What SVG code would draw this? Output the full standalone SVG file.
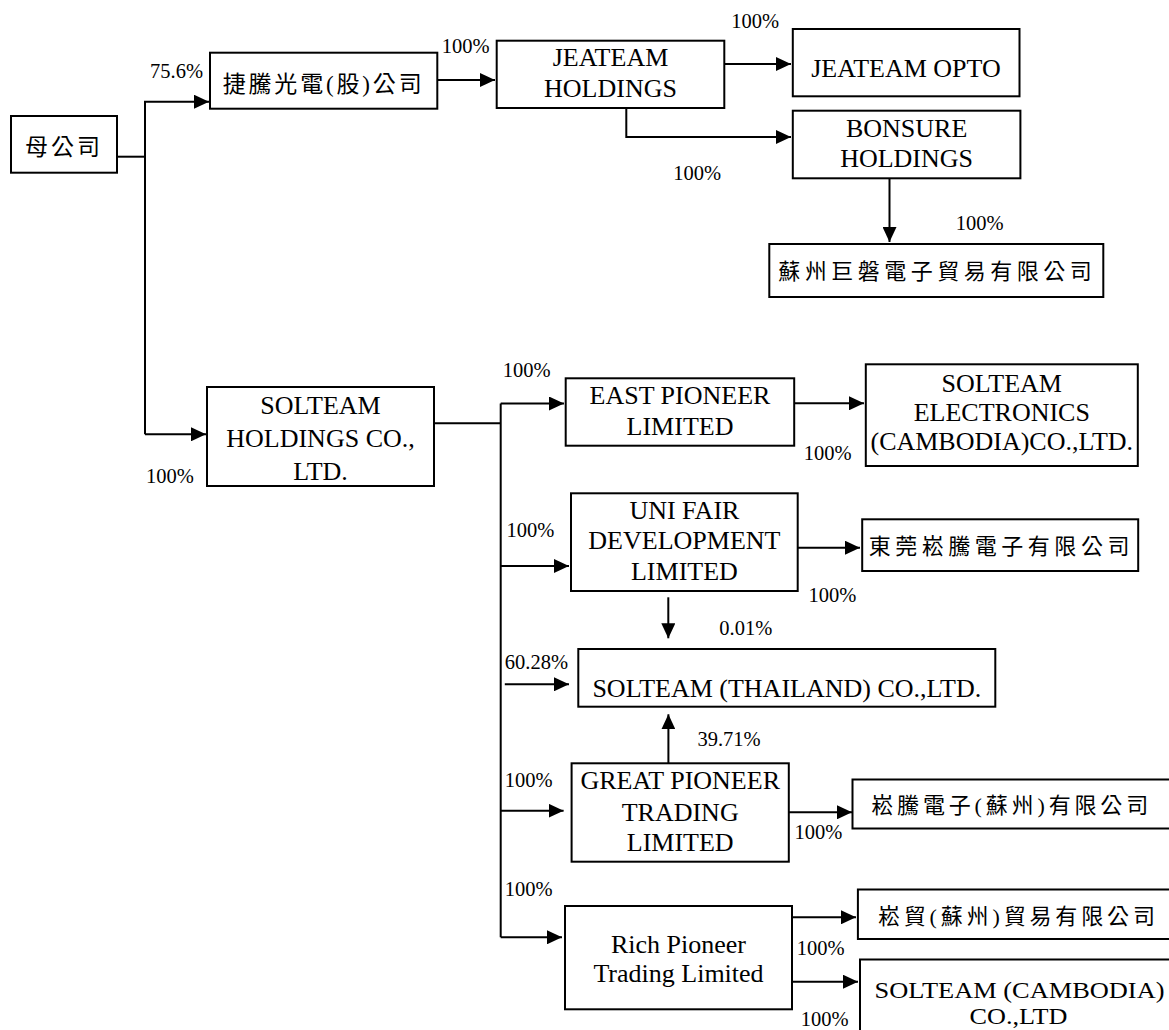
<svg xmlns="http://www.w3.org/2000/svg" width="1169" height="1030" viewBox="0 0 1169 1030">
<style>
.box{fill:#fff;stroke:#000;stroke-width:2}
.t{font-family:"Liberation Serif","Times New Roman",serif;font-size:26px;fill:#000;text-anchor:middle}
.c{font-family:"Liberation Serif","Noto Sans CJK TC",serif;font-size:23px;fill:#000}
.p{font-family:"Liberation Serif","Times New Roman",serif;font-size:20.5px;fill:#000}
.ln{fill:none;stroke:#000;stroke-width:2}
.ar{fill:none;stroke:#000;stroke-width:2;marker-end:url(#ah)}
</style>
<defs>
<marker id="ah" markerUnits="userSpaceOnUse" markerWidth="15" markerHeight="14" refX="15" refY="7" orient="auto">
<path d="M0,0 L15,7 L0,14 z" fill="#000"/>
</marker>
</defs>
<rect width="1169" height="1030" fill="#fff"/>
<g id="connectors">
<path class="ln" d="M117,156.7 H145"/>
<path class="ar" d="M145,434.3 V101.7 H209"/>
<path class="ar" d="M145,434.3 H206"/>
<path class="ar" d="M437.3,80 H495"/>
<path class="ar" d="M724.3,64 H791"/>
<path class="ar" d="M626.3,108 V137 H791"/>
<path class="ar" d="M889.5,178.3 V242"/>
<path class="ln" d="M434,423.3 H500.7"/>
<path class="ln" d="M500.7,403.5 V937.3"/>
<path class="ar" d="M500.7,403.5 H564"/>
<path class="ar" d="M794.2,403.3 H864"/>
<path class="ar" d="M500.7,566 H569"/>
<path class="ar" d="M797.7,547.7 H860"/>
<path class="ar" d="M668.3,597.3 V638.3"/>
<path class="ar" d="M504.8,684.3 H569"/>
<path class="ar" d="M668.4,763.3 V714.3"/>
<path class="ar" d="M500.7,810.7 H563.6"/>
<path class="ar" d="M788.8,812.3 H852"/>
<path class="ar" d="M500.7,937.3 H562"/>
<path class="ar" d="M790.1,917.3 H856"/>
<path class="ar" d="M791.9,981.7 H858"/>
</g>
<g id="labels">
<text class="p" x="150" y="78">75.6%</text>
<text class="p" x="441.7" y="53">100%</text>
<text class="p" x="731.3" y="27.5">100%</text>
<text class="p" x="673.3" y="180">100%</text>
<text class="p" x="955.8" y="230">100%</text>
<text class="p" x="146" y="482.7">100%</text>
<text class="p" x="502.7" y="377">100%</text>
<text class="p" x="803.8" y="460">100%</text>
<text class="p" x="506.4" y="537">100%</text>
<text class="p" x="808.6" y="602">100%</text>
<text class="p" x="719.3" y="634.5">0.01%</text>
<text class="p" x="504.8" y="669">60.28%</text>
<text class="p" x="697.4" y="746">39.71%</text>
<text class="p" x="504.8" y="787">100%</text>
<text class="p" x="794.6" y="839">100%</text>
<text class="p" x="504.8" y="896">100%</text>
<text class="p" x="796.8" y="955">100%</text>
<text class="p" x="800.8" y="1026">100%</text>
</g>
<g id="n-parent">
<rect class="box" x="11" y="116" width="106" height="56.7"/>
<text class="c" x="25" y="155" textLength="75" lengthAdjust="spacing">母公司</text>
</g>
<g id="n-jetek">
<rect class="box" x="210" y="52.7" width="227.3" height="56"/>
<text class="c" x="222.7" y="92" textLength="199" lengthAdjust="spacing">捷騰光電(股)公司</text>
</g>
<g id="n-jeateam-holdings">
<rect class="box" x="496.7" y="40.7" width="227.6" height="67.3"/>
<text class="t" x="610.5" y="66">JEATEAM</text>
<text class="t" x="610.5" y="96.7">HOLDINGS</text>
</g>
<g id="n-jeateam-opto">
<rect class="box" x="792.8" y="29" width="226.7" height="67.3"/>
<text class="t" x="906" y="76.7">JEATEAM OPTO</text>
</g>
<g id="n-bonsure">
<rect class="box" x="792.8" y="110.7" width="227.6" height="67.6"/>
<text class="t" x="906.6" y="136.7">BONSURE</text>
<text class="t" x="906.6" y="166.7">HOLDINGS</text>
</g>
<g id="n-suzhou-jupan">
<rect class="box" x="769.3" y="244" width="334" height="53"/>
<text class="c" x="778.3" y="279" style="font-size:22px" textLength="313.4" lengthAdjust="spacing">蘇州巨磐電子貿易有限公司</text>
</g>
<g id="n-solteam-holdings">
<rect class="box" x="207" y="387" width="227" height="99"/>
<text class="t" x="320.5" y="414">SOLTEAM</text>
<text class="t" x="320.5" y="447.3">HOLDINGS CO.,</text>
<text class="t" x="320.5" y="480">LTD.</text>
</g>
<g id="n-east-pioneer">
<rect class="box" x="565.7" y="378.3" width="228.5" height="67.4"/>
<text class="t" x="680" y="404">EAST PIONEER</text>
<text class="t" x="680" y="435">LIMITED</text>
</g>
<g id="n-solteam-electronics">
<rect class="box" x="865.8" y="364.3" width="272" height="101.7"/>
<text class="t" x="1001.8" y="391.7">SOLTEAM</text>
<text class="t" x="1001.8" y="421">ELECTRONICS</text>
<text class="t" x="1001.8" y="450">(CAMBODIA)CO.,LTD.</text>
</g>
<g id="n-uni-fair">
<rect class="box" x="571" y="493.3" width="226.7" height="97.7"/>
<text class="t" x="684.4" y="519">UNI FAIR</text>
<text class="t" x="684.4" y="549.3">DEVELOPMENT</text>
<text class="t" x="684.4" y="580">LIMITED</text>
</g>
<g id="n-dongguan">
<rect class="box" x="862.2" y="519.3" width="276" height="51.7"/>
<text class="c" x="868.8" y="554" style="font-size:22px" textLength="260.6" lengthAdjust="spacing">東莞崧騰電子有限公司</text>
</g>
<g id="n-thailand">
<rect class="box" x="578.3" y="649" width="417" height="57.7"/>
<text class="t" x="786.8" y="697.3">SOLTEAM (THAILAND) CO.,LTD.</text>
</g>
<g id="n-great-pioneer">
<rect class="box" x="571.6" y="763.3" width="217.2" height="98.4"/>
<text class="t" x="680.2" y="789">GREAT PIONEER</text>
<text class="t" x="680.2" y="820.7">TRADING</text>
<text class="t" x="680.2" y="850.7">LIMITED</text>
</g>
<g id="n-songteng-suzhou">
<rect class="box" x="852.5" y="779.5" width="330" height="49"/>
<text class="c" x="871.2" y="812.5" style="font-size:22px" textLength="277" lengthAdjust="spacing">崧騰電子(蘇州)有限公司</text>
</g>
<g id="n-rich-pioneer">
<rect class="box" x="565" y="906" width="227" height="103.3"/>
<text class="t" x="678.5" y="953.3">Rich Pioneer</text>
<text class="t" x="678.5" y="981.7">Trading Limited</text>
</g>
<g id="n-songmao-suzhou">
<rect class="box" x="857.9" y="889.5" width="330" height="49.5"/>
<text class="c" x="877.9" y="924" style="font-size:22px" textLength="277" lengthAdjust="spacing">崧貿(蘇州)貿易有限公司</text>
</g>
<g id="n-solteam-cambodia">
<rect class="box" x="860" y="959.5" width="330" height="90"/>
<text class="t" x="1019.5" y="997.5" style="font-size:23px" textLength="290" lengthAdjust="spacingAndGlyphs">SOLTEAM (CAMBODIA)</text>
<text class="t" x="1018.5" y="1023.5" style="font-size:23px" textLength="98" lengthAdjust="spacingAndGlyphs">CO.,LTD</text>
</g>
</svg>
